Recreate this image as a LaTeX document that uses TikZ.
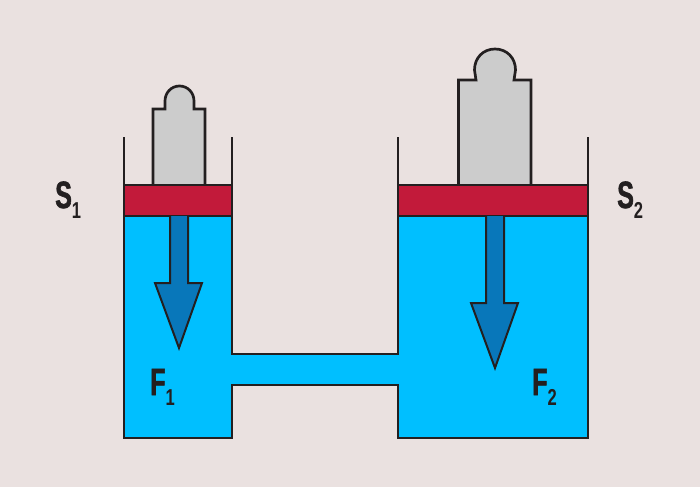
\documentclass[tikz,border=0pt]{standalone}
\usepackage{fontspec}
\usepackage{tikz}
\newfontfamily\bigfont[FakeStretch=0.66,FakeBold=1.5]{Liberation Sans Bold}
\newfontfamily\smallfont[FakeStretch=0.72]{Liberation Sans Bold}
\definecolor{wallback}{HTML}{EAE1E0}
\definecolor{water}{HTML}{00BFFF}
\definecolor{piston}{HTML}{C21A3A}
\definecolor{force}{HTML}{0877BA}
\definecolor{weight}{HTML}{CCCCCC}
\definecolor{ink}{HTML}{231F20}
\newcommand{\biglabel}[2]{{\fontsize{38}{38}\bigfont #1}\raisebox{-10pt}{\fontsize{23}{23}\smallfont #2}}
\tikzset{
	wall/.style={draw=ink, line width=2.7pt},
	pad/.style={wall, fill=#1},
	forcearrow/.style={draw=ink, line width=2pt, fill=force, line join=miter},
	tag/.style={text=ink, inner sep=0pt, anchor=base west}
}
\begin{document}
\begin{tikzpicture}[x=1pt, y=-1pt]
	\fill[wallback] (0,0) rectangle (700,487);
	\useasboundingbox (0,0) rectangle (700,487);
	% liquid
	\fill[water] (124,216) -- (232,216) -- (232,354) -- (398,354) -- (398,216) -- (588,216) -- (588,438) -- (398,438) -- (398,385) -- (232,385) -- (232,438) -- (124,438) -- cycle;
	% weights
	\draw[pad=weight] (153,185) -- (153,109) -- (165,109) -- (165,101) .. controls (165,93) and (171,86) .. (179.5,86) .. controls (188,86) and (194,93) .. (194,101) -- (194,109) -- (205,109) -- (205,185);
	\draw[pad=weight] (458.5,185) -- (458.5,80) -- (476,80) -- (474.5,70) .. controls (474.5,58) and (483,49) .. (495,49) .. controls (507,49) and (515.5,58) .. (515.5,70) -- (514,80) -- (531,80) -- (531,185);
	% pistons
	\draw[pad=piston] (124,185) rectangle (232,216);
	\draw[pad=piston] (398,185) rectangle (588,216);
	% vessels
	\draw[wall] (124,137) -- (124,438) -- (232,438) -- (232,385) -- (398,385) -- (398,438) -- (588,438) -- (588,137);
	\draw[wall] (232,137) -- (232,354) -- (398,354) -- (398,137);
	% forces
	\draw[forcearrow] (170,216) -- (170,283) -- (155,283) -- (179,348) -- (202,283) -- (188,283) -- (188,216);
	\draw[forcearrow] (486,216) -- (486,303) -- (471,303) -- (495,368) -- (518,303) -- (504,303) -- (504,216);
	% labels
	\node[tag] (s1) at (55,208) {\biglabel{S}{1}};
	\node[tag] (s2) at (617,208) {\biglabel{S}{2}};
	\node[tag] (f1) at (150,395) {\biglabel{F}{1}};
	\node[tag] (f2) at (532,395) {\biglabel{F}{2}};
\end{tikzpicture}
\end{document}
